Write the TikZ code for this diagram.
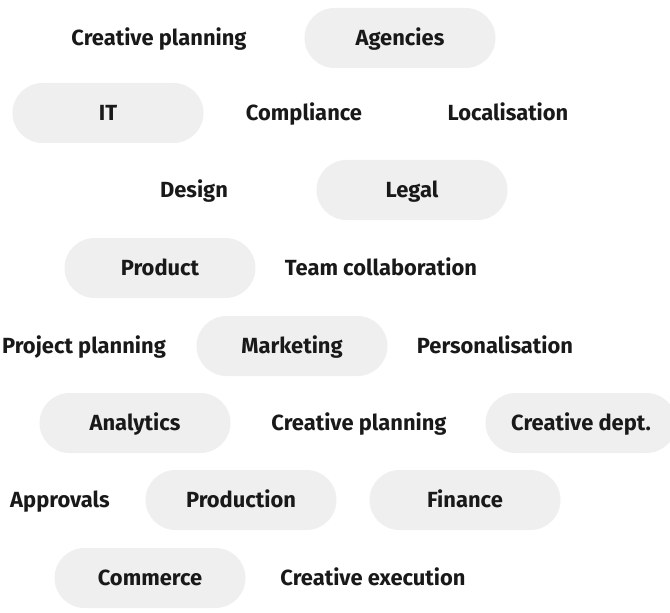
\documentclass[tikz,border=0pt]{standalone}
\usepackage{fontspec}
\setmainfont{Fira Sans}
\begin{document}
\begin{tikzpicture}[x=1bp,y=-1bp,
  txt/.style={font=\fontsize{22}{24}\selectfont\bfseries, text=black!90, text height=17bp, text depth=2bp},
  pill/.style={txt, fill=pillgray, rounded corners=30bp, minimum width=191bp, minimum height=60bp, inner sep=0pt},
  plain/.style={txt, inner sep=0pt}]
\definecolor{pillgray}{HTML}{EFEFEF}
\clip (0,0) rectangle (670,613);
\useasboundingbox (0,0) rectangle (670,613);
% pills
\node[pill] (agencies) at (400,38) {Agencies};
\node[pill] (it) at (108,113) {IT};
\node[pill] (legal) at (412,190) {Legal};
\node[pill] (product) at (160,268) {Product};
\node[pill] (marketing) at (292,346) {Marketing};
\node[pill] (analytics) at (135,423) {Analytics};
\node[pill] (creativedept) at (581,423) {Creative dept.};
\node[pill] (production) at (241,500) {Production};
\node[pill] (finance) at (465,500) {Finance};
\node[pill] (commerce) at (150,578) {Commerce};
% plain labels
\node[plain] (cp1) at (159,38) {Creative planning};
\node[plain] (compliance) at (304,113) {Compliance};
\node[plain] (localisation) at (508,113) {Localisation};
\node[plain] (design) at (194,190) {Design};
\node[plain] (team) at (381,268) {Team collaboration};
\node[plain] (projplan) at (84,346) {Project planning};
\node[plain] (personal) at (495,346) {Personalisation};
\node[plain] (cp2) at (359,423) {Creative planning};
\node[plain] (approvals) at (60,500) {Approvals};
\node[plain] (exec) at (373,578) {Creative execution};
\end{tikzpicture}
\end{document}
